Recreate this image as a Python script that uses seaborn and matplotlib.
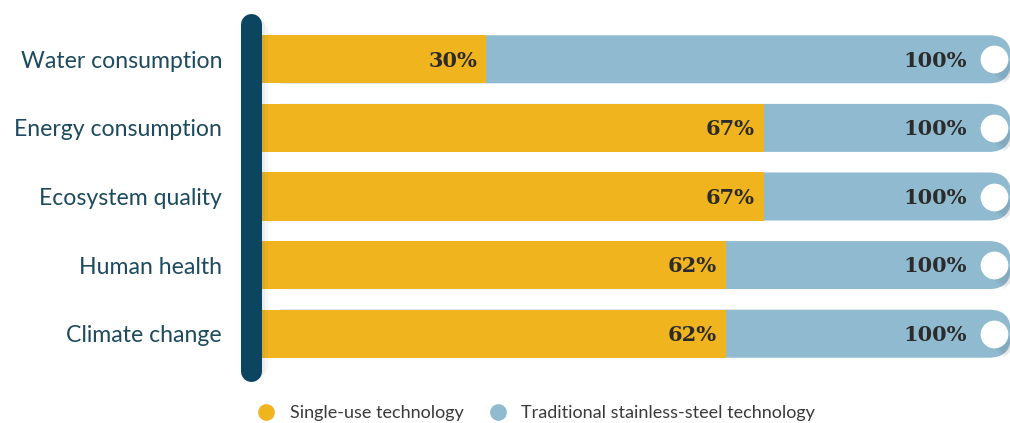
import matplotlib
matplotlib.use("Agg")
import matplotlib.pyplot as plt
from matplotlib.patches import FancyBboxPatch
from matplotlib.lines import Line2D
import seaborn as sns
import pandas as pd

# Data
categories = ["Water consumption", "Energy consumption", "Ecosystem quality",
              "Human health", "Climate change"]
single_use = [30, 67, 67, 62, 62]
stainless = [100, 100, 100, 100, 100]
series_names = ["Single-use technology", "Traditional stainless-steel technology"]

gold = "#F0B41E"
blue = "#8FBACF"
navy = "#0B4560"
label_col = "#1D4A5E"

df = pd.DataFrame({"cat": categories, "single": single_use, "steel": stainless})

sns.set_theme(style="white")
plt.rcParams["font.family"] = ["Lato", "DejaVu Sans"]

W, H = 1010, 423
fig = plt.figure(figsize=(W / 100, H / 100), dpi=100)
x0, x1 = 261, 1011
ytop, ybot = 25, 368
ax = fig.add_axes([x0 / W, 1 - ybot / H, (x1 - x0) / W, (ybot - ytop) / H])

# blue background bars (100%), then rounded
sns.barplot(data=df, x="steel", y="cat", color=blue, width=0.7, ax=ax,
            saturation=1, orient="h", linewidth=0)
px_x = (x1 - x0) / 100.0  # pixels per unit x
px_y = (ybot - ytop) / 5.0
r = 22
for p in list(ax.patches):
    bx, by, bw, bh = p.get_x(), p.get_y(), p.get_width(), p.get_height()
    p.set_visible(False)
    fb = FancyBboxPatch((bx, by), bw, bh,
                        boxstyle=f"round,pad=0,rounding_size={r / px_x}",
                        mutation_aspect=px_x / px_y,
                        fc=blue, ec="none", zorder=1)
    ax.add_patch(fb)

sns.barplot(data=df, x="single", y="cat", color=gold, width=0.7, ax=ax,
            saturation=1, orient="h", linewidth=0)
for p in ax.patches:
    if p.get_visible():
        p.set_zorder(2)

# value labels
for i, (s, t) in enumerate(zip(single_use, stainless)):
    ax.text(s - 9 / px_x, i + 0.02, f"{s}%", ha="right", va="center",
            fontsize=15, fontweight="bold", family="DejaVu Serif",
            color="#2B2B2B", zorder=5)
    ax.text(t - 44 / px_x, i + 0.02, f"{t}%", ha="right", va="center",
            fontsize=15, fontweight="bold", family="DejaVu Serif",
            color="#2B2B2B", zorder=5)

# knob shadows and white knobs
kx = [v - 17 / px_x for v in stainless]
for i, k in enumerate(kx):
    for w_, a_ in [(20, 0.07), (14, 0.07)]:
        ax.plot([k, k + 30 / px_x], [i, i + 30 / px_y], color="#3C4E5A",
                lw=w_ * 0.72, alpha=a_, solid_capstyle="butt", zorder=3)
ax.scatter(kx, range(len(categories)),
           s=20 ** 2, color="white", zorder=6, linewidths=0)

ax.set_xlim(0, 100)
ax.set_ylim(4.5, -0.5)
ax.set_xlabel("")
ax.set_ylabel("")
ax.set_xticks([])
ax.tick_params(axis="y", length=0, pad=28)
ax.set_yticks(range(len(categories)))
ax.set_yticklabels(categories, fontsize=16.6, color=label_col)
sns.despine(ax=ax, left=True, bottom=True)

# dark vertical bar with soft shadow
lw = 21 * 72 / 100
for off, a_ in [(6, 0.05), (3, 0.06)]:
    fig.add_artist(Line2D([(250.5 + off) / W] * 2,
                          [1 - (14 + 10.5 + off) / H, 1 - (381 - 10.5 - off) / H],
                          color="#555555", lw=lw, alpha=a_, solid_capstyle="round",
                          transform=fig.transFigure))
fig.add_artist(Line2D([250.5 / W, 250.5 / W],
                      [1 - (14 + 10.5) / H, 1 - (381 - 10.5) / H],
                      color=navy, lw=lw, solid_capstyle="round",
                      transform=fig.transFigure))

# legend
handles = [Line2D([], [], marker="o", ls="", markersize=11, color=gold),
           Line2D([], [], marker="o", ls="", markersize=11, color=blue)]
fig.legend(handles, series_names, loc="center left",
           bbox_to_anchor=(232 / W, 1 - 413 / H), ncol=2, frameon=False,
           fontsize=13, handletextpad=0.3, columnspacing=0.9,
           labelcolor="#3A3A3A")

fig.savefig("out.png", dpi=100)
